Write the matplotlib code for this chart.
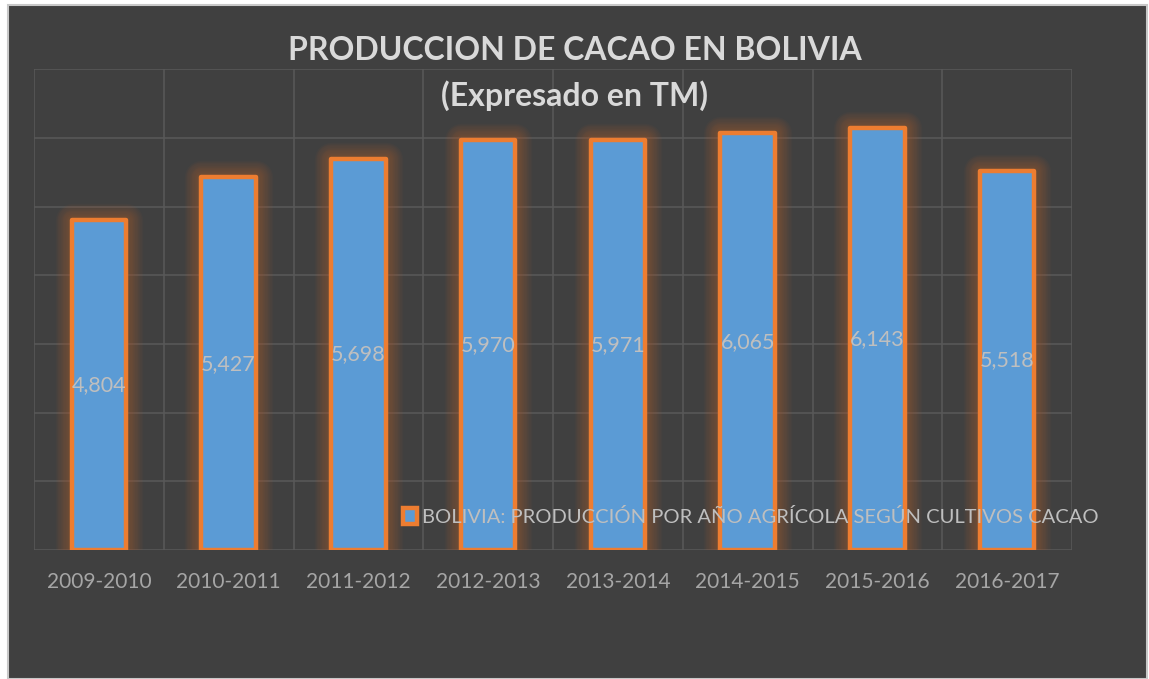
import matplotlib.pyplot as plt
import numpy as np
from matplotlib.patches import Rectangle

categories = ['2009-2010', '2010-2011', '2011-2012', '2012-2013',
              '2013-2014', '2014-2015', '2015-2016', '2016-2017']
produccion = [4804, 5427, 5698, 5970, 5971, 6065, 6143, 5518]
serie = 'BOLIVIA: PRODUCCIÓN POR AÑO AGRÍCOLA SEGÚN CULTIVOS CACAO'

bg = '#404040'
blue = '#5B9BD5'
orange = '#ED7D31'

plt.rcParams['font.family'] = ['Lato', 'DejaVu Sans']

fig = plt.figure(figsize=(11.49, 6.79), dpi=100, facecolor='white')
fig.patches.append(Rectangle((0.007, 0.0), 0.991, 0.9926, transform=fig.transFigure,
                             facecolor=bg, edgecolor='#c8c8c8', linewidth=1.5, zorder=-10))

ax = fig.add_axes([0.0296, 0.19, 0.9034, 0.708])
ax.set_facecolor('none')
x = np.arange(len(categories))
w = 0.42

# glow
for lw in np.linspace(4, 24, 12):
    ax.bar(x, produccion, w, color='none', edgecolor='#C8642A', linewidth=lw,
           alpha=0.04, joinstyle='round', zorder=2)
bars = ax.bar(x, produccion, w, color=blue, edgecolor=orange, linewidth=3.2,
              joinstyle='round', zorder=3, label=serie)

for xi, v in zip(x, produccion):
    ax.text(xi, v / 2, f'{v:,}', ha='center', va='center', color='#BFBFBF',
            fontsize=15.5, zorder=4)

ax.set_xlim(-0.5, len(categories) - 0.5)
ax.set_ylim(0, 7000)
ax.set_yticks(np.arange(0, 7001, 1000))
ax.set_xticks(np.arange(-0.5, len(categories), 1), minor=True)
ax.grid(axis='y', color='#585858', linewidth=1.2, zorder=1)
ax.grid(axis='x', which='minor', color='#585858', linewidth=1.2, zorder=1)
ax.set_axisbelow(True)
ax.set_xticks(x)
ax.set_xticklabels(categories, color='#A6A6A6', fontsize=15)
ax.tick_params(axis='x', which='both', length=0, pad=16)
ax.tick_params(axis='y', length=0, labelleft=False)
for s in ax.spines.values():
    s.set_visible(False)

leg = ax.legend(loc='center left', bbox_to_anchor=(0.355, 0.069), frameon=False,
                fontsize=14.5, handlelength=0.7, handleheight=0.9, handletextpad=0.25,
                borderpad=0, borderaxespad=0)
for t in leg.get_texts():
    t.set_color('#BFBFBF')

fig.text(0.5, 0.925, 'PRODUCCION DE CACAO EN BOLIVIA', ha='center', va='center',
         color='#D9D9D9', fontsize=23, fontweight='bold')
fig.text(0.5, 0.859, '(Expresado en TM)', ha='center', va='center',
         color='#D9D9D9', fontsize=23, fontweight='bold')

fig.savefig('out.png', dpi=100, facecolor='white')
